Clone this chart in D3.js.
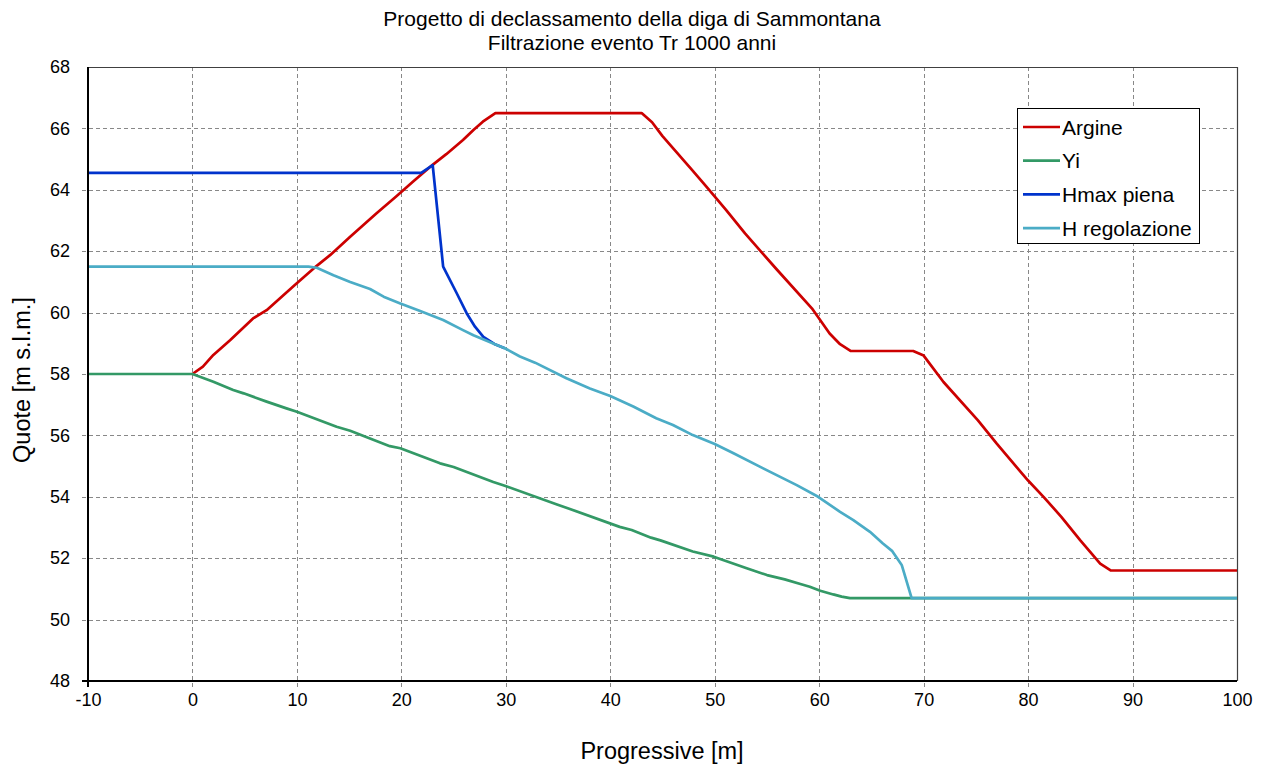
<!DOCTYPE html>
<html>
<head>
<meta charset="utf-8">
<script src="https://cdn.jsdelivr.net/npm/d3@7"></script>
<style>
  html, body { margin: 0; padding: 0; background: #fff; }
  svg { display: block; font-family: "Liberation Sans", Arial, sans-serif; }
</style>
</head>
<body>
<svg id="chart" width="1266" height="766"></svg>
<script>
// Chart titles
const titleLines = ["Progetto di declassamento della diga di Sammontana", "Filtrazione evento Tr 1000 anni"];
const xAxisTitle = "Progressive [m]";
const yAxisTitle = "Quote [m s.l.m.]";

// Axis ticks
const xTicks = [-10, 0, 10, 20, 30, 40, 50, 60, 70, 80, 90, 100];
const yTicks = [48, 50, 52, 54, 56, 58, 60, 62, 64, 66, 68];

// Embankment profile (Argine): [progressive, elevation]
const argine = [
  [0, 58.0], [1, 58.24], [2, 58.62], [3.6, 59.1], [5.8, 59.81], [7.1, 60.08],
  [9.8, 60.9], [11.6, 61.44], [13.2, 61.88], [15.1, 62.47], [17.6, 63.23],
  [19.5, 63.78], [21.1, 64.26], [23.05, 64.83], [24.3, 65.16], [25.9, 65.62],
  [26.9, 65.95], [27.8, 66.22], [29.0, 66.5], [43.0, 66.5], [44.0, 66.2],
  [45.0, 65.75], [47.8, 64.66], [49.2, 64.1], [51.1, 63.34], [52.9, 62.58],
  [55.9, 61.42], [59.3, 60.14], [61.0, 59.32], [62.0, 58.97], [63.0, 58.75],
  [69.0, 58.75], [70.0, 58.6], [71.9, 57.74], [75.2, 56.49], [77.0, 55.73],
  [78.9, 54.97], [80.0, 54.53], [81.5, 53.99], [83.2, 53.34], [85.0, 52.58],
  [86.9, 51.82], [87.9, 51.6], [100, 51.6]
];

// Phreatic line, ordinary conditions (Yi)
const yi = [
  [-10, 58.0], [0, 58.0], [2.0, 57.75], [3.9, 57.48], [4.9, 57.37], [7.1, 57.1],
  [9.0, 56.88], [10.0, 56.77], [13.8, 56.28], [15.1, 56.15], [18.9, 55.65],
  [19.9, 55.58], [23.7, 55.09], [25.0, 54.97], [28.8, 54.48], [29.9, 54.36],
  [34.9, 53.75], [36.0, 53.62], [40.9, 53.02], [42.05, 52.92], [43.9, 52.67],
  [44.8, 52.58], [47.9, 52.22], [49.9, 52.05], [53.06, 51.67], [55.0, 51.45],
  [56.7, 51.31], [58.2, 51.16], [59.1, 51.07], [60.1, 50.94], [61.35, 50.82],
  [62.15, 50.75], [62.95, 50.7], [100, 50.7]
];

// Phreatic line, maximum flood level (Hmax piena)
const hmaxPiena = [
  [-10, 64.55], [21.9, 64.55], [23.0, 64.8], [24.0, 61.5], [25.3, 60.63],
  [26.25, 59.98], [27.05, 59.54], [27.85, 59.21], [28.9, 58.98], [29.9, 58.84]
];

// Phreatic line, regulation level (H regolazione)
const hRegolazione = [
  [-10, 61.5], [11.1, 61.5], [11.9, 61.46], [13.5, 61.22], [15.1, 61.0],
  [17.0, 60.77], [18.3, 60.52], [19.9, 60.3], [21.8, 60.05], [24.0, 59.76],
  [25.9, 59.43], [26.9, 59.26], [28.96, 58.97], [29.9, 58.84], [31.35, 58.57],
  [32.8, 58.37], [35.8, 57.86], [38.05, 57.53], [40.0, 57.28], [42.2, 56.94],
  [44.4, 56.56], [46.0, 56.34], [47.9, 56.01], [50.0, 55.72], [51.8, 55.42],
  [54.5, 54.95], [57.85, 54.38], [59.9, 54.0], [62.0, 53.51], [63.27, 53.24],
  [64.86, 52.86], [66.1, 52.48], [67.0, 52.23], [67.9, 51.78], [68.85, 50.7],
  [100, 50.7]
];

const seriesNames = ["Argine", "Yi", "Hmax piena", "H regolazione"];
const seriesData = [argine, yi, hmaxPiena, hRegolazione];
const seriesColors = ["#CC0000", "#339966", "#0033CC", "#4BACC6"];

const svg = d3.select("#chart");
const plot = { left: 88, right: 1237, top: 67, bottom: 681 };

const x = d3.scaleLinear().domain([-10, 100]).range([plot.left, plot.right]);
const y = d3.scaleLinear().domain([48, 68]).range([plot.bottom, plot.top]);

// Grid lines (dashed), extending slightly beyond the axes as cross ticks
const grid = svg.append("g").attr("stroke", "#888").attr("stroke-width", 1)
  .attr("stroke-dasharray", "4,3").attr("shape-rendering", "crispEdges");
grid.selectAll("line.v").data(xTicks.slice(1, -1)).join("line")
  .attr("x1", d => Math.round(x(d)) + 0.5).attr("x2", d => Math.round(x(d)) + 0.5)
  .attr("y1", plot.top).attr("y2", plot.bottom + 6);
grid.selectAll("line.h").data(yTicks.slice(1, -1)).join("line")
  .attr("y1", d => Math.round(y(d)) + 0.5).attr("y2", d => Math.round(y(d)) + 0.5)
  .attr("x1", plot.left - 6).attr("x2", plot.right);

// Top and right plot border
svg.append("path")
  .attr("d", `M${plot.left},${plot.top + 0.5}H${plot.right + 0.5}V${plot.bottom}`)
  .attr("fill", "none").attr("stroke", "#404040").attr("stroke-width", 1.2);

// Axes (labels only; axis lines drawn separately)
const fmt = d => String(d);
const xAxis = d3.axisBottom(x).tickValues(xTicks).tickSize(0).tickPadding(12).tickFormat(fmt);
const yAxis = d3.axisLeft(y).tickValues(yTicks).tickSize(0).tickPadding(18).tickFormat(fmt);

const gx = svg.append("g").attr("transform", `translate(0,${plot.bottom})`).call(xAxis);
const gy = svg.append("g").attr("transform", `translate(${plot.left},0)`).call(yAxis);
[gx, gy].forEach(g => {
  g.select(".domain").remove();
  g.selectAll("text").attr("font-size", 18).attr("fill", "#000")
    .attr("font-family", "Liberation Sans, Arial, sans-serif");
});

// Series lines
const line = d3.line().x(d => x(d[0])).y(d => y(d[1])).curve(d3.curveLinear);
const lines = svg.append("g").attr("fill", "none").attr("stroke-width", 2.7)
  .attr("stroke-linejoin", "round").attr("stroke-linecap", "butt");
seriesData.forEach((data, i) => {
  lines.append("path").datum(data).attr("d", line).attr("stroke", seriesColors[i]);
});

// Axis lines on top of the data
svg.append("line").attr("x1", plot.left).attr("x2", plot.left)
  .attr("y1", plot.top).attr("y2", plot.bottom + 6)
  .attr("stroke", "#000").attr("stroke-width", 2);
svg.append("line").attr("x1", plot.left - 6).attr("x2", plot.right)
  .attr("y1", plot.bottom).attr("y2", plot.bottom)
  .attr("stroke", "#000").attr("stroke-width", 2);

// Titles
svg.append("g").selectAll("text").data(titleLines).join("text")
  .attr("x", 632).attr("y", (d, i) => 26 + i * 24)
  .attr("text-anchor", "middle").attr("font-size", 21).attr("fill", "#000")
  .text(d => d);

svg.append("text").attr("x", 662).attr("y", 759).attr("text-anchor", "middle")
  .attr("font-size", 23.5).attr("fill", "#000").text(xAxisTitle);

svg.append("text").attr("transform", "translate(30,380) rotate(-90)")
  .attr("text-anchor", "middle").attr("font-size", 23.5).attr("fill", "#000")
  .text(yAxisTitle);

// Legend
const legend = svg.append("g").attr("transform", "translate(1017,108)");
legend.append("rect").attr("x", 0.5).attr("y", 0.5).attr("width", 182).attr("height", 135)
  .attr("fill", "#fff").attr("stroke", "#000").attr("stroke-width", 1);
const items = legend.selectAll("g.item").data(seriesNames).join("g")
  .attr("transform", (d, i) => `translate(0,${19 + i * 33.7})`);
items.append("line").attr("x1", 6).attr("x2", 43).attr("y1", 0).attr("y2", 0)
  .attr("stroke", (d, i) => seriesColors[i]).attr("stroke-width", 2.7);
items.append("text").attr("x", 45).attr("y", 7.5).attr("font-size", 21)
  .attr("fill", "#000").text(d => d);
</script>
</body>
</html>
